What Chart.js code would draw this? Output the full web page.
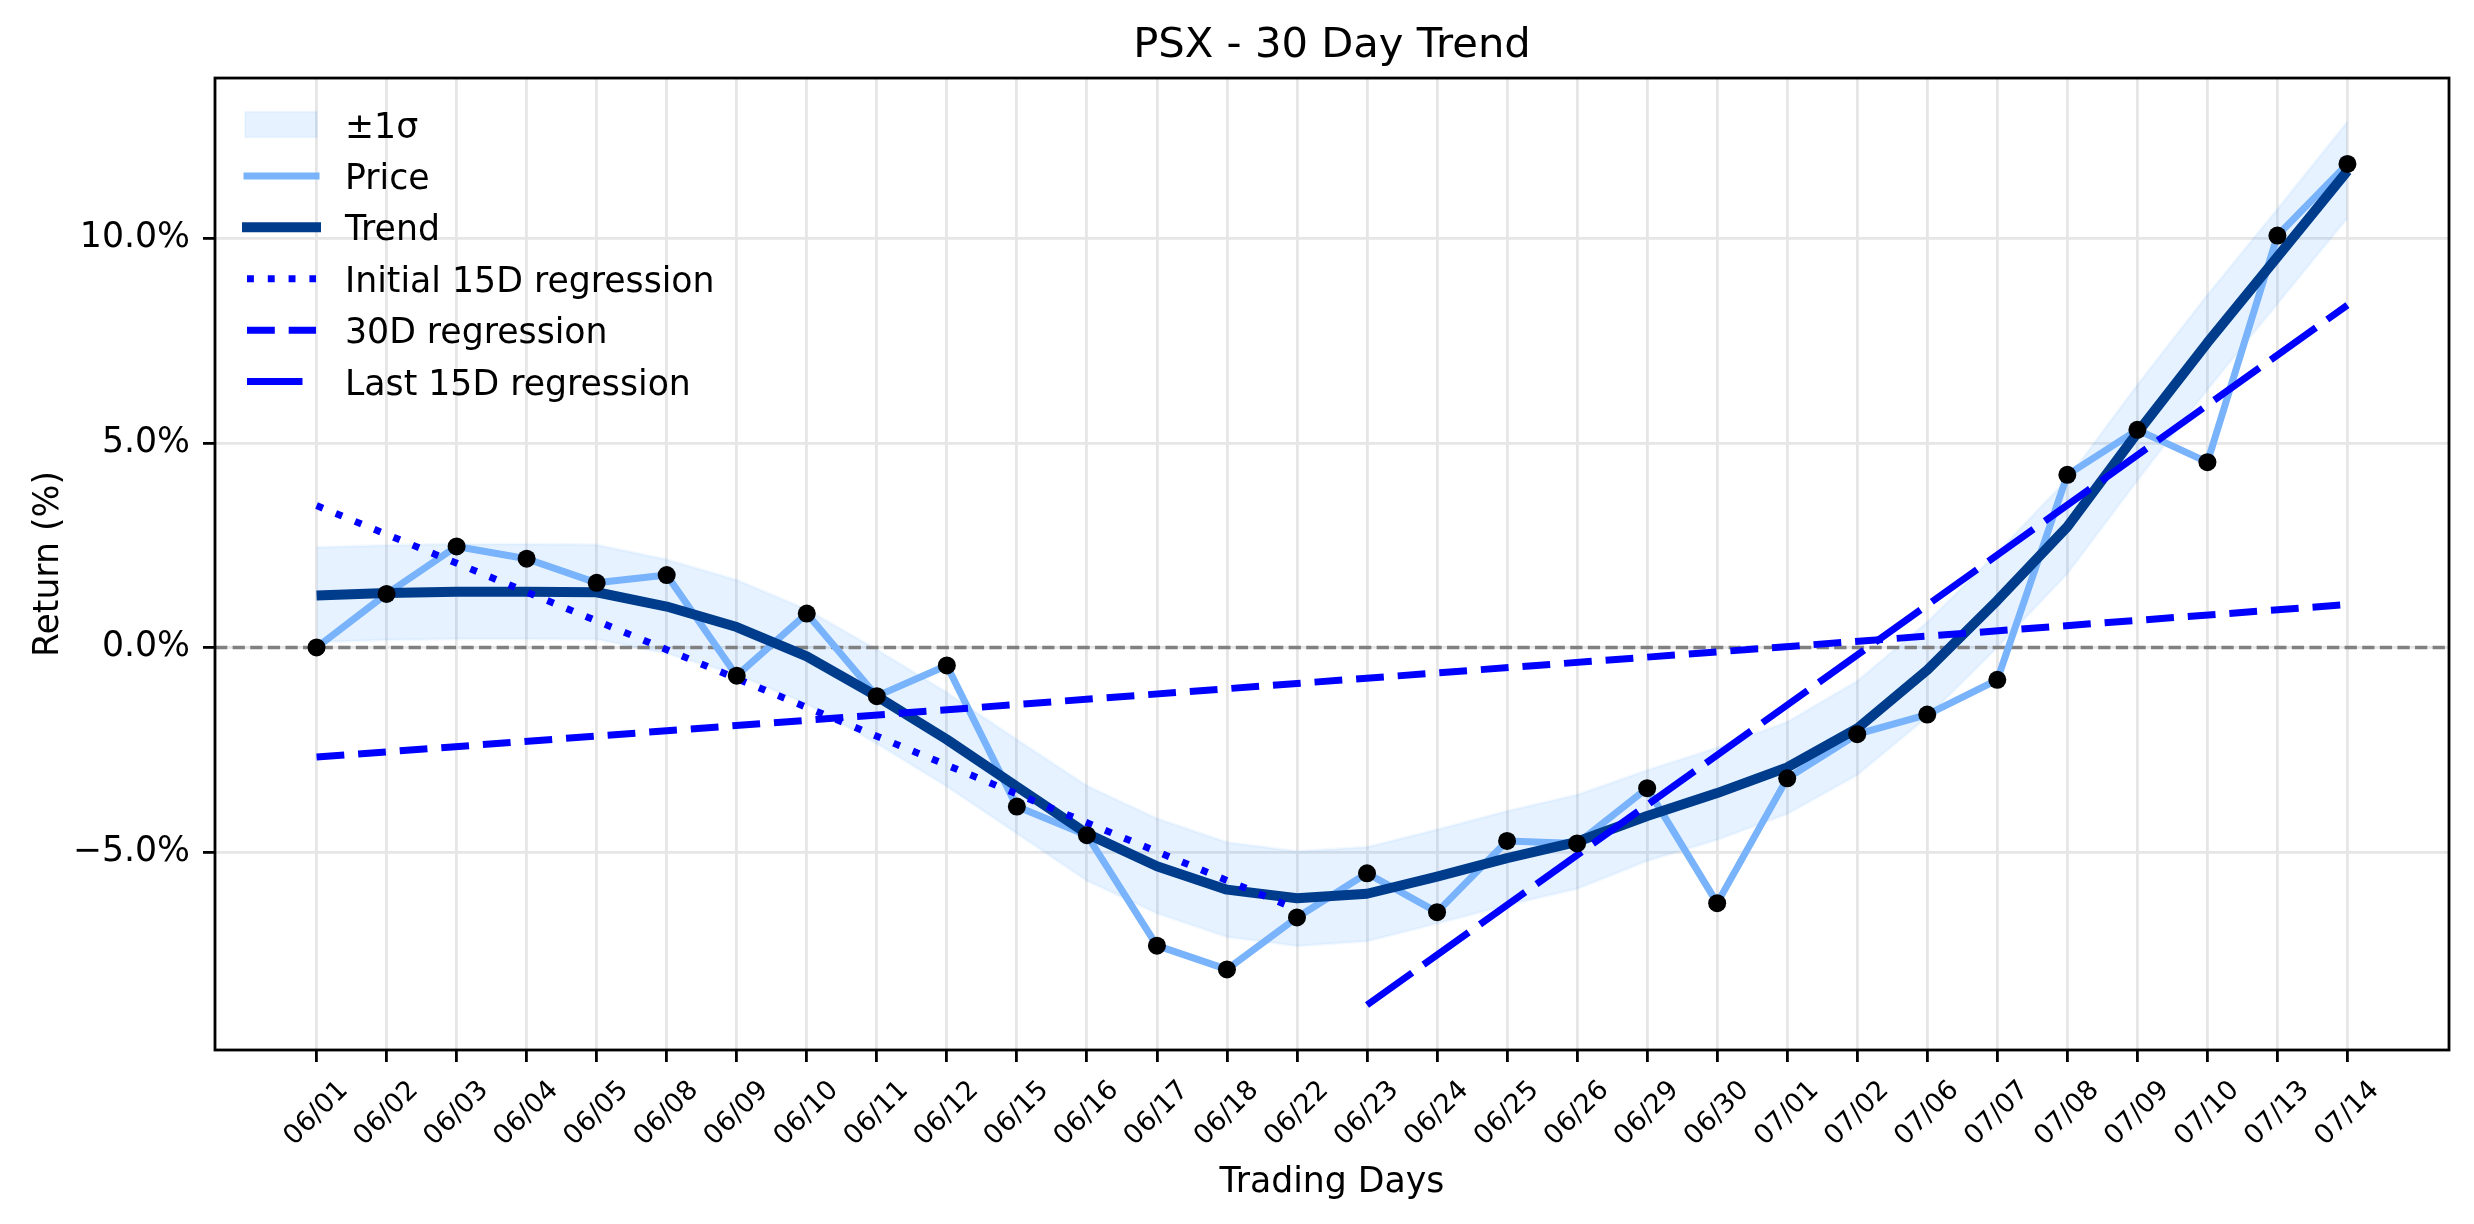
<!DOCTYPE html>
<html>
<head>
<meta charset="utf-8">
<title>PSX - 30 Day Trend</title>
<script src="https://cdn.jsdelivr.net/npm/chart.js@4.4.0/dist/chart.umd.min.js"></script>
<style>
    html, body { margin: 0; padding: 0; background: #fff; }
    #wrap { width: 2474px; height: 1224px; }
</style>
</head>
<body>
<div id="wrap"><canvas id="trend-chart"></canvas></div>
<script>
// data
const days = ["06/01", "06/02", "06/03", "06/04", "06/05", "06/08", "06/09", "06/10", "06/11", "06/12",
    "06/15", "06/16", "06/17", "06/18", "06/22", "06/23", "06/24", "06/25", "06/26", "06/29",
    "06/30", "07/01", "07/02", "07/06", "07/07", "07/08", "07/09", "07/10", "07/13", "07/14"];
const price = [0.00, 1.31, 2.47, 2.17, 1.58, 1.77, -0.69, 0.83, -1.19, -0.44,
    -3.89, -4.59, -7.29, -7.87, -6.60, -5.52, -6.47, -4.73, -4.79, -3.44,
    -6.25, -3.20, -2.12, -1.64, -0.79, 4.22, 5.32, 4.53, 10.07, 11.82];
const trend = [1.27, 1.33, 1.36, 1.36, 1.35, 1.00, 0.50, -0.22, -1.19, -2.25,
    -3.40, -4.55, -5.35, -5.92, -6.13, -6.02, -5.60, -5.15, -4.75, -4.12,
    -3.56, -2.93, -1.98, -0.55, 1.15, 2.95, 5.25, 7.45, 9.55, 11.65];
const sigmaUpper = [2.45, 2.50, 2.53, 2.53, 2.51, 2.15, 1.65, 0.93, -0.05, -1.10,
    -2.25, -3.38, -4.18, -4.76, -4.98, -4.88, -4.45, -4.00, -3.60, -3.00,
    -2.45, -1.82, -0.82, 0.62, 2.32, 4.12, 6.42, 8.62, 10.72, 12.85];
const sigmaLower = [0.13, 0.18, 0.21, 0.21, 0.20, -0.15, -0.66, -1.38, -2.35, -3.40,
    -4.55, -5.70, -6.50, -7.08, -7.30, -7.18, -6.75, -6.30, -5.90, -5.22,
    -4.70, -4.07, -3.12, -1.70, 0.00, 1.80, 4.08, 6.30, 8.40, 10.50];

// regression lines: day index -> value at the two ends
const initRegDays = [0, 14];
const initRegValues = [3.47, -6.40];
const fullRegDays = [0, 29];
const fullRegValues = [-2.68, 1.05];
const lastRegDays = [15, 29];
const lastRegValues = [-8.74, 8.37];

const yTicks = [-5, 0, 5, 10];
const xMin = -1.45, xMax = 30.45;
const yMin = -9.84, yMax = 13.92;

const FONT = "DejaVu Sans";
Chart.defaults.font.family = FONT;
Chart.defaults.color = "#000";

const dayIdx = days.map((d, i) => i);
const pts = (xs, ys) => ys.map((y, i) => ({ x: xs[i], y: y }));

const bandFill = "rgba(30, 136, 255, 0.11)";
const bandEdge = "rgba(30, 136, 255, 0.05)";

// matplotlib-like legend drawn inside the axes, plus the 4 spines
const legendOrder = ["±1σ", "Price", "Trend", "Initial 15D regression", "30D regression", "Last 15D regression"];
const mplLegend = {
    id: "mplLegend",
    afterLayout(chart) {
        // center the title over the plot area, like matplotlib does
        const t = chart.titleBlock;
        if (t) {
            t.left = chart.chartArea.left;
            t.right = chart.chartArea.right;
            t.width = t.right - t.left;
        }
    },
    afterDatasetsDraw(chart) {
        const ctx = chart.ctx;
        const area = chart.chartArea;
        const x0 = area.left + 31, x1 = area.left + 101;
        ctx.save();
        legendOrder.forEach((label, i) => {
            const ds = chart.data.datasets.find((d) => d.label === label);
            const y = area.top + 46.5 + i * 51.4;
            if (ds.fill) {
                ctx.fillStyle = ds.backgroundColor;
                ctx.fillRect(x0 - 1, y - 12.8, 72, 25.6);
                ctx.strokeStyle = ds.borderColor;
                ctx.lineWidth = 2;
                ctx.strokeRect(x0 - 1, y - 12.8, 72, 25.6);
            } else {
                const dash = ds.borderDash || [];
                ctx.strokeStyle = ds.borderColor;
                ctx.lineWidth = ds.borderWidth;
                ctx.setLineDash(dash);
                ctx.lineCap = dash.length ? "butt" : "square";
                ctx.beginPath();
                ctx.moveTo(x0 + 1, y);
                ctx.lineTo(x1, y);
                ctx.stroke();
                ctx.setLineDash([]);
            }
            ctx.fillStyle = "#000";
            ctx.font = "34.7px '" + FONT + "'";
            ctx.textBaseline = "alphabetic";
            ctx.fillText(label, area.left + 130, y + 13);
        });
        // spines
        ctx.strokeStyle = "#000";
        ctx.lineWidth = 2.8;
        ctx.lineCap = "butt";
        ctx.strokeRect(area.left, area.top, area.right - area.left, area.bottom - area.top);
        ctx.restore();
    },
};

new Chart(document.getElementById("trend-chart"), {
    type: "line",
    data: {
        datasets: [
            {
                label: "±1σ",
                data: pts(dayIdx, sigmaUpper),
                borderColor: bandEdge,
                borderWidth: 3,
                backgroundColor: bandFill,
                fill: "+1",
                pointRadius: 0,
                order: 10,
            },
            {
                label: "sigma lower",
                data: pts(dayIdx, sigmaLower),
                borderColor: bandEdge,
                borderWidth: 3,
                fill: false,
                pointRadius: 0,
                order: 10,
            },
            {
                label: "zero",
                data: [{ x: xMin, y: 0 }, { x: xMax, y: 0 }],
                borderColor: "#808080",
                borderWidth: 3.5,
                borderDash: [12.3, 5.3],
                pointRadius: 0,
                order: 9,
            },
            {
                label: "Price",
                data: pts(dayIdx, price),
                borderColor: "#78b3fb",
                borderWidth: 7,
                borderJoinStyle: "round",
                pointRadius: 0,
                order: 8,
            },
            {
                label: "Trend",
                data: pts(dayIdx, trend),
                borderColor: "#003c8c",
                borderWidth: 10,
                borderJoinStyle: "round",
                pointRadius: 0,
                order: 7,
            },
            {
                label: "Initial 15D regression",
                data: pts(initRegDays, initRegValues),
                borderColor: "#0000ff",
                borderWidth: 7,
                borderDash: [6.9, 13.9],
                pointRadius: 0,
                order: 6,
            },
            {
                label: "30D regression",
                data: pts(fullRegDays, fullRegValues),
                borderColor: "#0000ff",
                borderWidth: 7,
                borderDash: [27.8, 13.9],
                pointRadius: 0,
                order: 5,
            },
            {
                label: "Last 15D regression",
                data: pts(lastRegDays, lastRegValues),
                borderColor: "#0000ff",
                borderWidth: 7,
                borderDash: [55.5, 13.9],
                pointRadius: 0,
                order: 4,
            },
            {
                label: "points",
                data: pts(dayIdx, price),
                showLine: false,
                pointRadius: 9,
                pointBackgroundColor: "#000",
                pointBorderWidth: 0,
                order: 1,
            },
        ],
    },
    options: {
        responsive: true,
        maintainAspectRatio: false,
        animation: false,
        layout: { padding: { left: 0, right: 25, top: 0, bottom: 0 } },
        plugins: {
            legend: { display: false },
            tooltip: { enabled: false },
            title: {
                display: true,
                text: "PSX - 30 Day Trend",
                color: "#000",
                font: { size: 41.7, weight: "normal" },
                padding: { top: 21.5, bottom: 6.5 },
            },
        },
        scales: {
            x: {
                type: "linear",
                min: xMin,
                max: xMax,
                afterBuildTicks: (axis) => {
                    axis.ticks = dayIdx.map((i) => ({ value: i }));
                },
                afterFit: (axis) => {
                    axis.height = 174;
                },
                ticks: {
                    autoSkip: false,
                    maxRotation: 45,
                    minRotation: 45,
                    labelOffset: 27.5,
                    padding: 12.8,
                    font: { size: 27 },
                    callback: (v) => days[v],
                },
                grid: { color: "#e6e6e6", lineWidth: 2.8, tickColor: "#000", tickLength: 12, tickWidth: 2.8 },
                border: { display: false },
                title: {
                    display: true,
                    text: "Trading Days",
                    font: { size: 34.7 },
                    padding: { top: 0, bottom: 20 },
                },
            },
            y: {
                type: "linear",
                min: yMin,
                max: yMax,
                afterBuildTicks: (axis) => {
                    axis.ticks = yTicks.map((v) => ({ value: v }));
                },
                afterFit: (axis) => {
                    axis.width = 215;
                },
                ticks: {
                    padding: 13,
                    font: { size: 34.7 },
                    callback: (v) => (v < 0 ? "\u2212" : "") + Math.abs(v).toFixed(1) + "%",
                },
                grid: { color: "#e6e6e6", lineWidth: 2.8, tickColor: "#000", tickLength: 12, tickWidth: 2.8 },
                border: { display: false },
                title: {
                    display: true,
                    text: "Return (%)",
                    font: { size: 34.7 },
                    padding: { top: 28, bottom: 0 },
                },
            },
        },
    },
    plugins: [mplLegend],
});
</script>
</body>
</html>
